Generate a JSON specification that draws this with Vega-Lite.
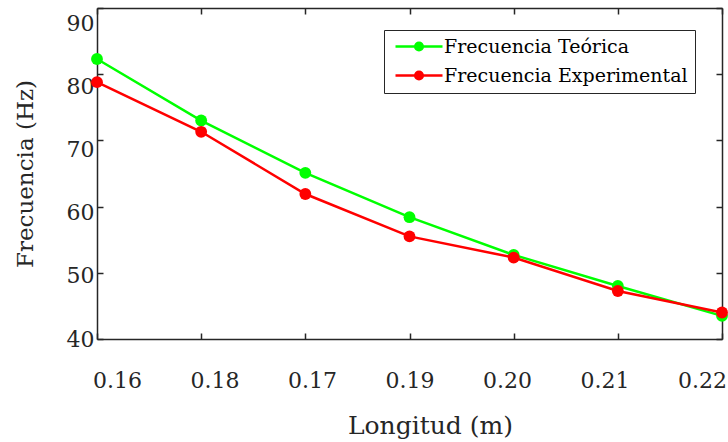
{
  "$schema": "https://vega.github.io/schema/vega-lite/v6.json",
  "width": 625,
  "height": 331,
  "autosize": "none",
  "padding": {"left": 97, "top": 8, "right": 6, "bottom": 103},
  "background": "white",
  "config": {
    "view": {"stroke": null},
    "font": "DejaVu Serif",
    "axis": {
      "domainColor": "#262626",
      "domainWidth": 1.5,
      "tickColor": "#262626",
      "tickWidth": 1.5,
      "tickSize": -6,
      "grid": false,
      "labelFont": "DejaVu Serif",
      "labelFontSize": 22,
      "labelColor": "#262626",
      "titleFont": "DejaVu Serif",
      "titleFontSize": 23,
      "titleFontWeight": "normal",
      "titleColor": "#262626"
    }
  },
  "data": {
    "values": [
      {"Longitud": "0.16", "Frecuencia": 82.3, "Serie": "Frecuencia Teórica"},
      {"Longitud": "0.18", "Frecuencia": 73.0, "Serie": "Frecuencia Teórica"},
      {"Longitud": "0.17", "Frecuencia": 65.1, "Serie": "Frecuencia Teórica"},
      {"Longitud": "0.19", "Frecuencia": 58.4, "Serie": "Frecuencia Teórica"},
      {"Longitud": "0.20", "Frecuencia": 52.7, "Serie": "Frecuencia Teórica"},
      {"Longitud": "0.21", "Frecuencia": 48.0, "Serie": "Frecuencia Teórica"},
      {"Longitud": "0.22", "Frecuencia": 43.5, "Serie": "Frecuencia Teórica"},
      {"Longitud": "0.16", "Frecuencia": 78.8, "Serie": "Frecuencia Experimental"},
      {"Longitud": "0.18", "Frecuencia": 71.3, "Serie": "Frecuencia Experimental"},
      {"Longitud": "0.17", "Frecuencia": 61.9, "Serie": "Frecuencia Experimental"},
      {"Longitud": "0.19", "Frecuencia": 55.5, "Serie": "Frecuencia Experimental"},
      {"Longitud": "0.20", "Frecuencia": 52.3, "Serie": "Frecuencia Experimental"},
      {"Longitud": "0.21", "Frecuencia": 47.25, "Serie": "Frecuencia Experimental"},
      {"Longitud": "0.22", "Frecuencia": 44.0, "Serie": "Frecuencia Experimental"}
    ]
  },
  "layer": [
    {
      "transform": [{"filter": "datum.Serie == 'Frecuencia Teórica'"}],
      "mark": {"type": "line", "strokeWidth": 2.5, "point": {"filled": true, "size": 140, "opacity": 1}},
      "encoding": {
        "x": {
          "field": "Longitud", "type": "ordinal",
          "scale": {"type": "point", "padding": 0, "domain": ["0.16", "0.18", "0.17", "0.19", "0.20", "0.21", "0.22"]},
          "axis": {
            "orient": "bottom", "labelAngle": 0, "labelPadding": 37, "title": "Longitud (m)",
            "titleX": 333, "titlePadding": 22, "titleFontSize": 25,
            "labelOffset": {"expr": "20 - 40*datum.index"}
          }
        },
        "y": {
          "field": "Frecuencia", "type": "quantitative",
          "scale": {"domain": [40, 90], "nice": false, "zero": false},
          "axis": {
            "orient": "left", "values": [40, 50, 60, 70, 80, 90], "labelPadding": 9,
            "title": "Frecuencia (Hz)", "titlePadding": 29,
            "labelOffset": {"expr": "15*datum.index"}
          }
        },
        "color": {
          "field": "Serie", "type": "nominal",
          "scale": {"domain": ["Frecuencia Teórica", "Frecuencia Experimental"], "range": ["#00FF00", "#FF0000"]},
          "legend": {
            "orient": "none", "legendX": 287, "legendY": 22, "title": null,
            "strokeColor": "#262626", "fillColor": "white", "padding": 7,
            "labelFont": "DejaVu Serif", "labelFontSize": 19, "labelColor": "#000000", "labelLimit": 0,
            "symbolType": "M-1,0L8.4,0M2.94,0A0.76,0.76,0,1,0,4.46,0A0.76,0.76,0,1,0,2.94,0Z",
            "symbolSize": 100, "symbolStrokeWidth": 2.5, "labelOffset": 34, "rowPadding": 9
          }
        }
      }
    },
    {
      "transform": [{"filter": "datum.Serie == 'Frecuencia Experimental'"}],
      "mark": {"type": "line", "strokeWidth": 2.5, "point": {"filled": true, "size": 140, "opacity": 1}},
      "encoding": {
        "x": {"field": "Longitud", "type": "ordinal", "axis": null},
        "y": {"field": "Frecuencia", "type": "quantitative", "axis": null},
        "color": {"field": "Serie", "type": "nominal"}
      }
    },
    {
      "mark": {"type": "point", "opacity": 0},
      "encoding": {
        "x": {"field": "Longitud", "type": "ordinal", "axis": {"orient": "top", "labels": false, "title": null}},
        "y": {"field": "Frecuencia", "type": "quantitative", "axis": {"orient": "right", "labels": false, "title": null, "values": [40, 50, 60, 70, 80, 90]}}
      }
    }
  ],
  "resolve": {"axis": {"x": "independent", "y": "independent"}}
}
